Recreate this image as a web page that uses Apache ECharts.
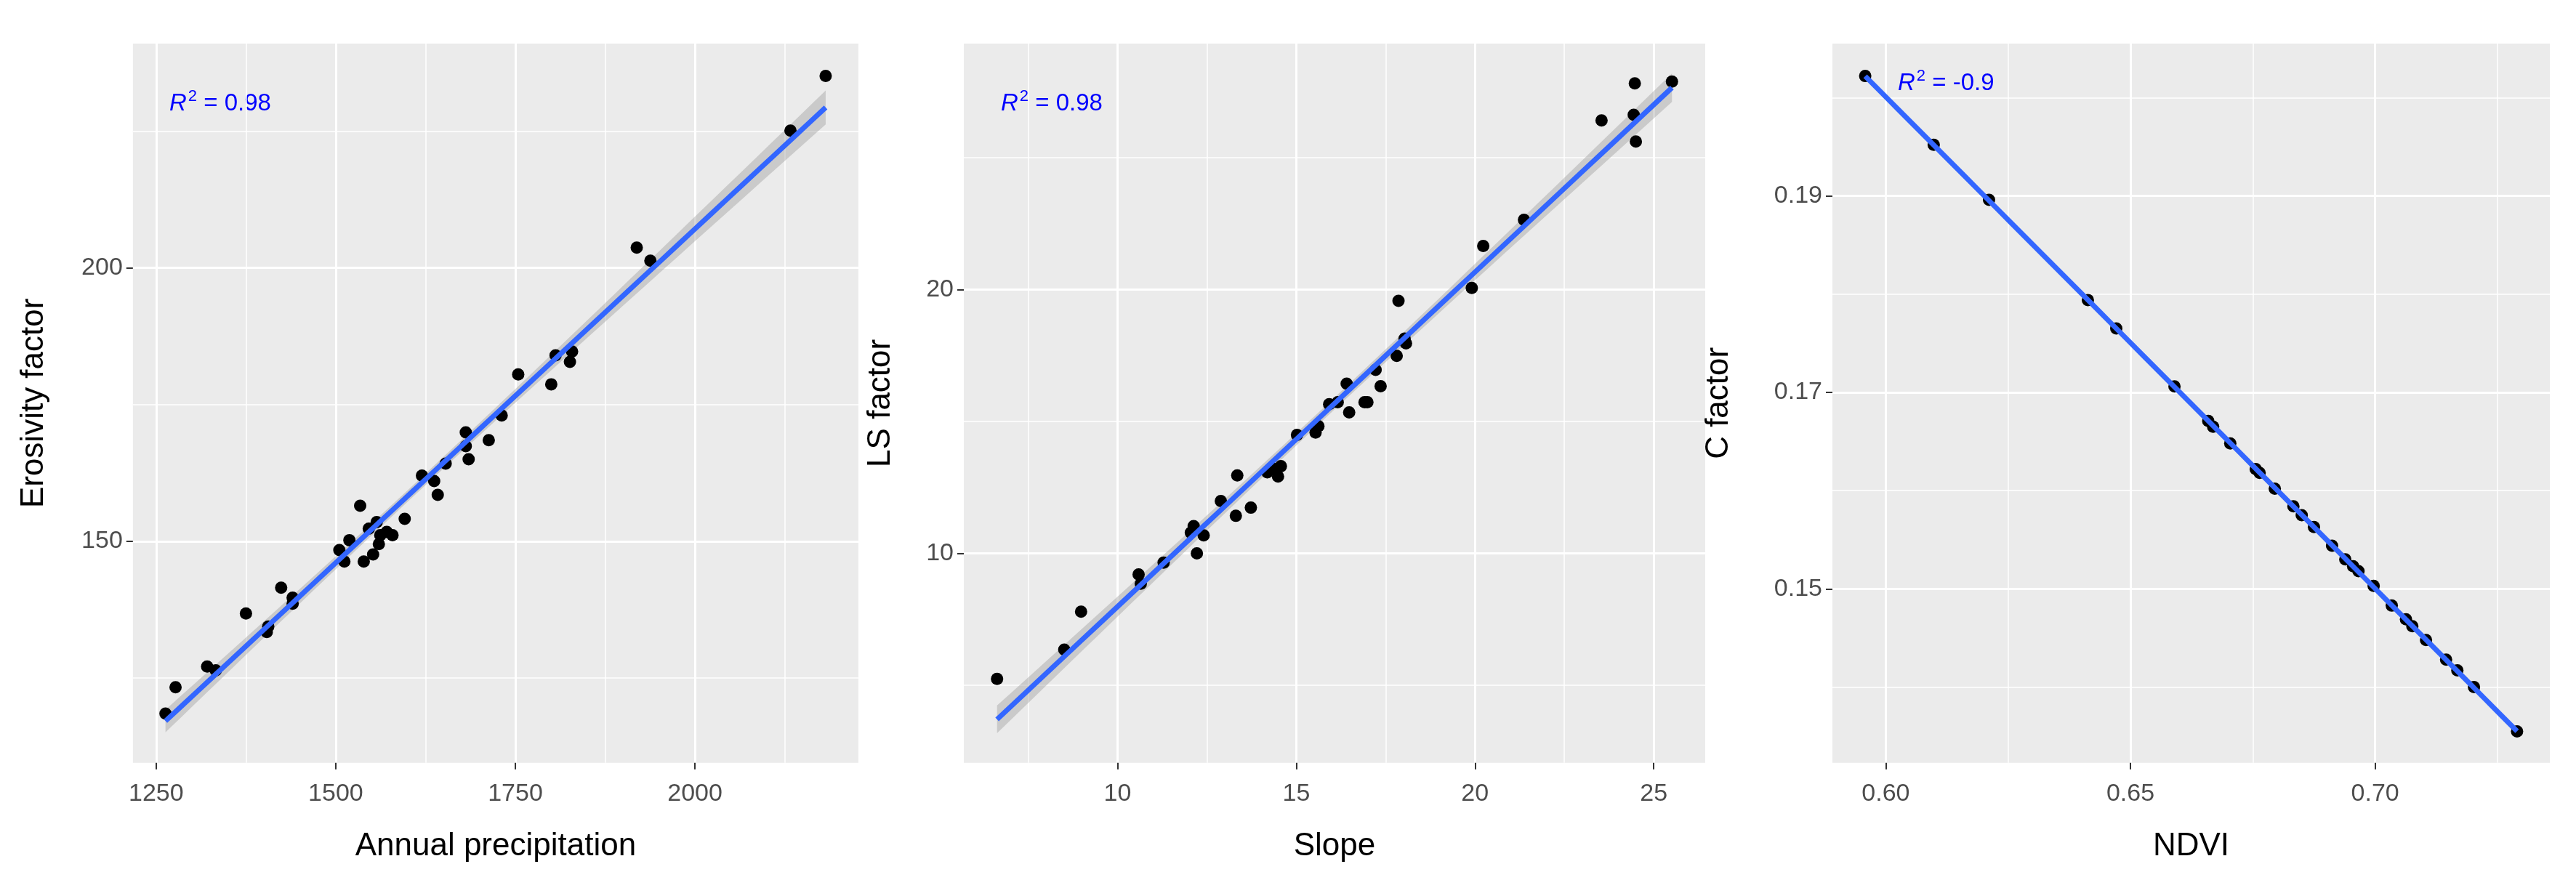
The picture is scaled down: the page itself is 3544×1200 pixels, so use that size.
<script src="https://cdn.jsdelivr.net/npm/echarts@6/dist/echarts.min.js"></script>
<div id="main" style="width:3544px;height:1200px;margin:0;padding:0;"></div>
<script>
// panel 1: annual precipitation vs erosivity
var precip = [1263,1277,1321,1333,1375,1404,1406,1424,1440,1440,1505,1512,1519,1534,1539,1546,1552,1557,1560,1562,1571,1579,1596,1620,1637,1642,1653,1681,1681,1685,1713,1731,1754,1800,1806,1826,1829,1919,1938,2133,2182];
var erosivity = [118.5,123.3,127.1,126.4,136.8,133.4,134.4,141.5,139.7,138.6,148.4,146.3,150.2,156.5,146.3,152.3,147.6,153.5,149.5,151.1,151.7,151.1,154.1,162.0,161.0,158.5,164.2,169.9,167.4,165.0,168.5,173.0,180.5,178.7,184.0,182.8,184.7,203.7,201.3,225.1,235.1];
// panel 2: slope vs LS factor
var slope = [6.63,8.51,8.98,10.59,10.65,11.29,12.05,12.13,12.22,12.41,12.89,13.31,13.35,13.73,14.19,14.39,14.49,14.57,15.02,15.54,15.62,15.92,16.16,16.41,16.48,16.91,16.99,17.22,17.36,17.81,17.86,18.03,18.07,19.91,20.23,21.37,23.54,24.44,24.47,24.5,25.51];
var lsFactor = [5.24,6.35,7.79,9.20,8.85,9.65,10.78,11.03,10.0,10.68,11.98,11.42,12.95,11.73,13.07,13.2,12.91,13.3,14.49,14.58,14.82,15.65,15.73,16.43,15.34,15.73,15.73,16.95,16.33,17.48,19.57,18.14,17.96,20.06,21.65,22.64,26.41,26.62,27.81,25.61,27.88];
// panel 3: NDVI vs C factor
var ndvi = [0.5958,0.6098,0.6211,0.6413,0.6471,0.6590,0.6659,0.6669,0.6704,0.6756,0.6764,0.6795,0.6833,0.6850,0.6875,0.6912,0.6939,0.6955,0.6966,0.6997,0.7034,0.7063,0.7076,0.7104,0.7145,0.7168,0.7202,0.7290];
var cFactor = [0.2022,0.1952,0.1896,0.1794,0.1765,0.1706,0.1671,0.1665,0.1648,0.1622,0.1618,0.1602,0.1584,0.1575,0.1563,0.1544,0.1530,0.1523,0.1518,0.1503,0.1483,0.1469,0.1462,0.1448,0.1428,0.1417,0.1400,0.1355];

var xTitles = ['Annual precipitation', 'Slope', 'NDVI'];
var yTitles = ['Erosivity factor', 'LS factor', 'C factor'];
var r2Labels = ['0.98', '0.98', '-0.9'];
var xMajor = [[1250,1500,1750,2000], [10,15,20,25], [0.60,0.65,0.70]];
var xMinor = [[1375,1625,1875,2125], [7.5,12.5,17.5,22.5], [0.625,0.675,0.725]];
var yMajor = [[150,200], [10,20], [0.15,0.17,0.19]];
var yMinor = [[125,175,225], [5,15,25], [0.14,0.16,0.18,0.20]];
var xRange = [[1217.6,2227.6], [5.70,26.44], [0.5891,0.7357]];
var yRange = [[109.5,241], [2.06,29.32], [0.1323,0.2055]];
var xDigits = [0, 0, 2];
var yDigits = [0, 0, 2];

var panels = [[precip, erosivity], [slope, lsFactor], [ndvi, cFactor]];
var grids = [
  {left: 174, top: 52, width: 999, height: 1009},
  {left: 1318, top: 52, width: 1020, height: 1009},
  {left: 2513, top: 52, width: 987, height: 1009}
];
var yNameGap = [98, 76, 118];
var r2Pos = [[225, 126], [1369, 126], [2603, 98]];

function fit(xs, ys) {
  var n = xs.length, mx = 0, my = 0;
  for (var i = 0; i < n; i++) { mx += xs[i]; my += ys[i]; }
  mx /= n; my /= n;
  var sxx = 0, sxy = 0;
  for (i = 0; i < n; i++) { sxx += (xs[i]-mx)*(xs[i]-mx); sxy += (xs[i]-mx)*(ys[i]-my); }
  var b = sxy / sxx, a = my - b * mx, sse = 0;
  for (i = 0; i < n; i++) { var r = ys[i] - (a + b*xs[i]); sse += r*r; }
  var s = Math.sqrt(sse / (n - 2));
  var lo = Math.min.apply(null, xs), hi = Math.max.apply(null, xs);
  var line = [], upper = [], lower = [];
  for (var k = 0; k <= 40; k++) {
    var x = lo + (hi - lo) * k / 40, yh = a + b*x;
    var se = 2.02 * s * Math.sqrt(1/n + (x-mx)*(x-mx)/sxx);
    line.push([x, yh]); upper.push([x, yh + se]); lower.push([x, yh - se]);
  }
  return {line: line, upper: upper, lower: lower};
}

var xAxes = [], yAxes = [], series = [], graphics = [];
var font = 'Liberation Sans';
panels.forEach(function (p, i) {
  xAxes.push({
    type: 'value', gridIndex: i, min: xRange[i][0], max: xRange[i][1],
    name: xTitles[i], nameLocation: 'middle', nameGap: 64,
    nameTextStyle: {fontSize: 44, color: '#000', fontFamily: font},
    axisLine: {show: false},
    axisTick: {show: true, customValues: xMajor[i], length: 9, lineStyle: {color: '#333', width: 2}},
    axisLabel: {customValues: xMajor[i], fontSize: 34, color: '#4d4d4d', fontFamily: font, margin: 14,
      formatter: (function (d) { return function (v) { return v.toFixed(d); }; })(xDigits[i])},
    splitLine: {show: true, lineStyle: {color: '#fff', width: 3}}
  });
  xAxes.push({
    type: 'value', gridIndex: i, min: xRange[i][0], max: xRange[i][1], position: 'bottom',
    axisLine: {show: false}, axisLabel: {show: false},
    axisTick: {show: false, customValues: xMinor[i]},
    splitLine: {show: true, lineStyle: {color: '#fff', width: 1.5}}
  });
  yAxes.push({
    type: 'value', gridIndex: i, min: yRange[i][0], max: yRange[i][1],
    name: yTitles[i], nameLocation: 'middle', nameGap: yNameGap[i],
    nameTextStyle: {fontSize: 44, color: '#000', fontFamily: font},
    axisLine: {show: false},
    axisTick: {show: true, customValues: yMajor[i], length: 9, lineStyle: {color: '#333', width: 2}},
    axisLabel: {customValues: yMajor[i], fontSize: 34, color: '#4d4d4d', fontFamily: font, margin: 14,
      formatter: (function (d) { return function (v) { return v.toFixed(d); }; })(yDigits[i])},
    splitLine: {show: true, lineStyle: {color: '#fff', width: 3}}
  });
  yAxes.push({
    type: 'value', gridIndex: i, min: yRange[i][0], max: yRange[i][1], position: 'left',
    axisLine: {show: false}, axisLabel: {show: false},
    axisTick: {show: false, customValues: yMinor[i]},
    splitLine: {show: true, lineStyle: {color: '#fff', width: 1.5}}
  });
  var xa = i * 2, ya = i * 2;
  var pts = p[0].map(function (x, k) { return [x, p[1][k]]; });
  var f = fit(p[0], p[1]);
  var band = f.upper.concat(f.lower.slice().reverse());
  series.push({
    type: 'custom', xAxisIndex: xa, yAxisIndex: ya, silent: true, z: 2,
    data: [0],
    renderItem: (function (band) {
      return function (params, api) {
        return {type: 'polygon', shape: {points: band.map(function (d) { return api.coord(d); })},
          style: {fill: 'rgba(153,153,153,0.4)'}};
      };
    })(band)
  });
  series.push({
    type: 'scatter', xAxisIndex: xa, yAxisIndex: ya, data: pts, symbolSize: 17,
    itemStyle: {color: '#000', opacity: 1}, z: 3
  });
  series.push({
    type: 'line', xAxisIndex: xa, yAxisIndex: ya, data: f.line, showSymbol: false,
    lineStyle: {color: '#3366FF', width: 7}, z: 4
  });
  graphics.push({
    type: 'text', left: r2Pos[i][0], top: r2Pos[i][1] - 20,
    style: {
      text: '{i|R}{s|2}{n| = ' + r2Labels[i] + '}',
      rich: {
        i: {fontStyle: 'italic', fontSize: 33, fill: '#0000FF', fontFamily: font},
        s: {fontSize: 22, fill: '#0000FF', fontFamily: font, verticalAlign: 'top', padding: [0, 0, 14, 2]},
        n: {fontSize: 33, fill: '#0000FF', fontFamily: font}
      }
    }
  });
});

var myChart = echarts.init(document.getElementById('main'));
var option = {
  backgroundColor: '#fff',
  animation: false,
  grid: grids.map(function (g) {
    return Object.assign({show: true, backgroundColor: '#EBEBEB', borderWidth: 0}, g);
  }),
  xAxis: xAxes,
  yAxis: yAxes,
  series: series,
  graphic: graphics
};
myChart.setOption(option);
window.onresize = function () { myChart.resize(); };
</script>
